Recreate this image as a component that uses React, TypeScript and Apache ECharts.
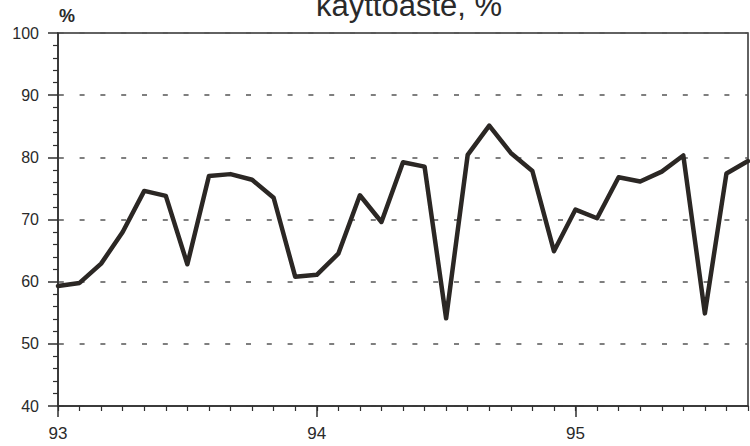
import React, { useEffect, useRef } from "react";
import * as echarts from "echarts";

// Monthly categories Jan 1993 .. Sep 1995
const months: string[] = [
  "93-01","93-02","93-03","93-04","93-05","93-06","93-07","93-08","93-09","93-10","93-11","93-12",
  "94-01","94-02","94-03","94-04","94-05","94-06","94-07","94-08","94-09","94-10","94-11","94-12",
  "95-01","95-02","95-03","95-04","95-05","95-06","95-07","95-08","95-09",
];
const yearLabels: string[] = ["93", "94", "95"];
// käyttöaste, %
const utilisation: number[] = [
  59.3, 59.8, 62.9, 68.0, 74.6, 73.8, 62.8, 77.0, 77.3, 76.4, 73.5, 60.8,
  61.1, 64.5, 73.9, 69.6, 79.2, 78.5, 54.1, 80.4, 85.1, 80.7, 77.8, 64.9,
  71.6, 70.2, 76.8, 76.1, 77.7, 80.3, 54.9, 77.4, 79.4,
];
const yMin = 40;
const yMax = 100;
const yStep = 10;

export default function App() {
  const ref = useRef<HTMLDivElement>(null);
  useEffect(() => {
    document.body.style.margin = "0";
    if (!ref.current) return;
    const chart = echarts.init(ref.current, undefined, { renderer: "svg" });
    const ink = "#2f2f2f";
    const font = "'Liberation Sans', Arial, Helvetica, sans-serif";
    chart.setOption({
      animation: false,
      backgroundColor: "#ffffff",
      grid: {
        left: 58,
        right: 2,
        top: 33,
        bottom: 40,
        show: true,
        borderColor: ink,
        borderWidth: 1.5,
        backgroundColor: "transparent",
      },
      graphic: [
        {
          type: "text",
          x: 409,
          y: 5,
          style: {
            text: "käyttöaste, %",
            fontSize: 31,
            fontFamily: font,
            fill: "#2a2a2a",
            align: "center",
            verticalAlign: "middle",
          },
        },
        {
          type: "text",
          x: 67,
          y: 16,
          style: {
            text: "%",
            fontSize: 18,
            fontWeight: "bold",
            fontFamily: font,
            fill: "#2a2a2a",
            align: "center",
            verticalAlign: "middle",
          },
        },
      ],
      xAxis: [
        {
          type: "category",
          data: months,
          boundaryGap: false,
          position: "bottom",
          axisLine: { show: true, onZero: false, lineStyle: { color: ink, width: 1.5 } },
          axisTick: { show: true, interval: 0, length: 5, lineStyle: { color: ink, width: 1.2 } },
          axisLabel: {
            interval: (i: number) => i % 12 === 0,
            formatter: (_v: string, i: number) => (i % 12 === 0 ? yearLabels[i / 12] : ""),
            fontSize: 17,
            fontFamily: font,
            color: "#2a2a2a",
            margin: 19,
          },
          splitLine: { show: false },
        },
        {
          type: "category",
          data: months,
          boundaryGap: false,
          position: "bottom",
          axisLine: { show: false, onZero: false },
          axisTick: {
            show: true,
            interval: (i: number) => i % 12 === 0,
            length: 11,
            lineStyle: { color: ink, width: 1.5 },
          },
          axisLabel: { show: false },
          splitLine: { show: false },
        },
      ],
      yAxis: {
        type: "value",
        min: yMin,
        max: yMax,
        interval: yStep,
        axisLine: { show: true, lineStyle: { color: ink, width: 1.5 } },
        axisTick: { show: true, length: 10, lineStyle: { color: ink, width: 1.5 } },
        minorTick: { show: true, splitNumber: 5, length: 5, lineStyle: { color: ink, width: 1.2 } },
        axisLabel: {
          fontSize: 16,
          fontFamily: font,
          color: "#2a2a2a",
          margin: 19,
        },
        splitLine: {
          show: true,
          lineStyle: { color: "#555", width: 1.5, type: [5, 15.8], dashOffset: 20.3 },
        },
        minorSplitLine: { show: false },
      },
      series: [
        {
          type: "line",
          data: utilisation,
          xAxisIndex: 0,
          symbol: "none",
          lineStyle: { color: "#2b2724", width: 4.5, join: "round", cap: "round" },
        },
      ],
    });
    return () => chart.dispose();
  }, []);
  return <div ref={ref} style={{ width: 750, height: 446 }} />;
}
